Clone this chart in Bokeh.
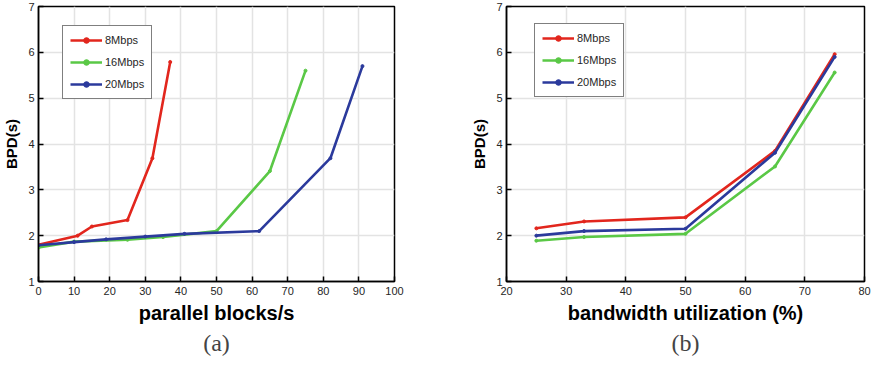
from bokeh.plotting import figure
from bokeh.layouts import row
from bokeh.models import Legend, LegendItem, Title, FixedTicker, Range1d
from bokeh.embed import file_html
from bokeh.resources import INLINE

# ---- data (a) ----
xa_8 = [0, 11, 15, 25, 32, 37]
ya_8 = [1.8, 2.0, 2.2, 2.34, 3.69, 5.79]
xa_16 = [0, 10, 25, 35, 50, 65, 75]
ya_16 = [1.74, 1.87, 1.91, 1.97, 2.1, 3.41, 5.6]
xa_20 = [0, 10, 19, 30, 41, 62, 82, 91]
ya_20 = [1.79, 1.86, 1.92, 1.98, 2.04, 2.1, 3.69, 5.7]

# ---- data (b) ----
xb = [25, 33, 50, 65, 75]
yb_8 = [2.16, 2.31, 2.40, 3.85, 5.96]
yb_16 = [1.89, 1.97, 2.04, 3.51, 5.56]
yb_20 = [2.0, 2.1, 2.15, 3.81, 5.9]

series_labels = ["8Mbps", "16Mbps", "20Mbps"]
colors = ["#e2261d", "#5ac846", "#2b3a9c"]
y_ticks = [1, 2, 3, 4, 5, 6, 7]

FONT = "Liberation Sans"


def make_fig(width, x_start, x_end, x_ticks, xlabel, caption, mb_left, mb_right,
             series, legend_pos):
    p = figure(width=width, height=366, output_backend="svg", toolbar_location=None,
               x_range=Range1d(x_start, x_end), y_range=Range1d(1, 7),
               min_border_left=mb_left, min_border_right=mb_right,
               min_border_top=6, min_border_bottom=85,
               outline_line_color="black", outline_line_width=1.5,
               background_fill_color="white", border_fill_color="white")
    p.xaxis.ticker = FixedTicker(ticks=x_ticks)
    p.yaxis.ticker = FixedTicker(ticks=y_ticks)
    for ax in (p.xaxis[0], p.yaxis[0]):
        ax.axis_line_color = "black"
        ax.axis_line_width = 1.5
        ax.major_tick_in = 5
        ax.major_tick_out = 0
        ax.major_tick_line_color = "black"
        ax.major_tick_line_width = 1.5
        ax.minor_tick_line_color = None
        ax.major_label_text_font = FONT
        ax.major_label_text_font_size = "11px"
        ax.major_label_text_color = "#262626"
        ax.axis_label_text_font = FONT
        ax.axis_label_text_font_style = "bold"
        ax.axis_label_text_color = "black"
    p.xaxis.major_label_standoff = 5
    p.yaxis.major_label_standoff = 4
    p.xaxis.axis_label = xlabel
    p.xaxis.axis_label_text_font_size = "20px"
    p.xaxis.axis_label_standoff = 4
    p.yaxis.axis_label = "BPD(s)"
    p.yaxis.axis_label_text_font_size = "15px"
    p.yaxis.axis_label_standoff = 5

    p.grid.grid_line_color = "#e3e3e3"
    p.grid.grid_line_width = 1.5

    items = []
    for (xs, ys), lab, c in zip(series, series_labels, colors):
        l = p.line(xs, ys, line_color=c, line_width=2.6)
        s = p.scatter(xs, ys, size=3, color=c)
        items.append(LegendItem(label=lab, renderers=[l, s]))

    leg = Legend(items=items, location=legend_pos, border_line_color="black",
                 border_line_width=1.5, background_fill_alpha=1,
                 label_text_font=FONT, label_text_font_size="11px",
                 label_text_color="#262626",
                 glyph_width=32, glyph_height=14, label_height=14, spacing=8,
                 padding=7, label_standoff=3, margin=0)
    p.add_layout(leg)

    cap = Title(text=caption, align="center", text_font="Liberation Serif",
                text_font_size="24px", text_font_style="normal", standoff=2)
    p.add_layout(cap, "below")
    return p


pa = make_fig(430, 0, 100, list(range(0, 101, 10)), "parallel blocks/s", "(a)", 36, 36,
              [(xa_8, ya_8), (xa_16, ya_16), (xa_20, ya_20)], (24, 182))
pb = make_fig(443, 20, 80, list(range(20, 81, 10)), "bandwidth utilization (%)", "(b)", 76, 9,
              [(xb, yb_8), (xb, yb_16), (xb, yb_20)], (28, 184))

layout = row(pa, pb)
open("out.html", "w").write(file_html(layout, INLINE))
